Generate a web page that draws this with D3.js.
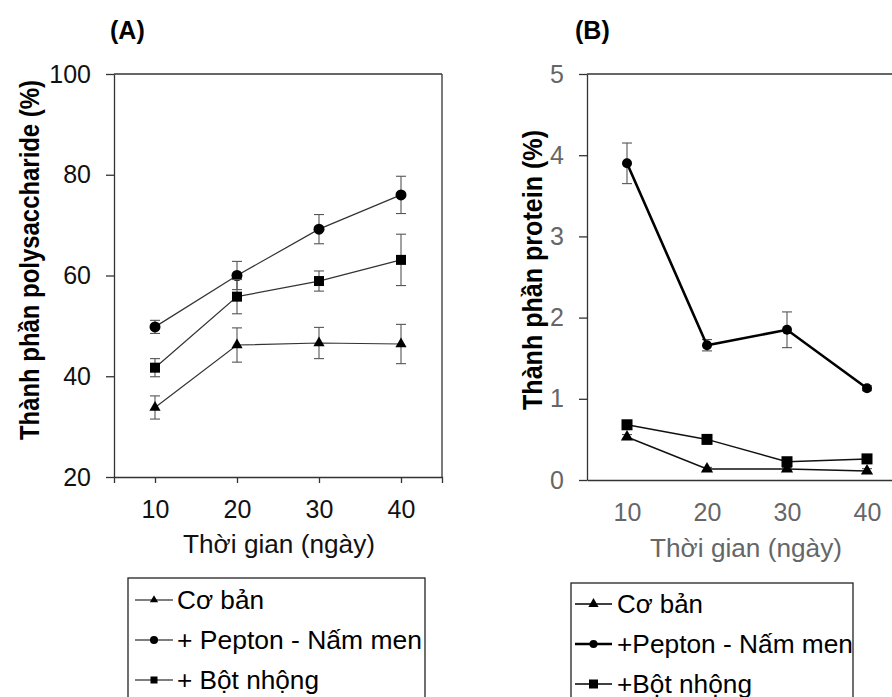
<!DOCTYPE html>
<html>
<head>
<meta charset="utf-8">
<script src="https://cdn.jsdelivr.net/npm/d3@7"></script>
<style>
  body { margin: 0; background: #fff; }
  svg { display: block; }
  text { font-family: "Liberation Sans", Arial, sans-serif; }
</style>
</head>
<body>
<div id="chart"></div>
<script>
// data
var days = [10, 20, 30, 40];
var yTicksA = [20, 40, 60, 80, 100];
var yTicksB = [0, 1, 2, 3, 4, 5];

var legendA = ["Cơ bản", "+ Pepton - Nấm men", "+ Bột nhộng"];
var legendB = ["Cơ bản", "+Pepton - Nấm men", "+Bột nhộng"];

// (A) polysaccharide %
var polyBase = [33.8, 46.2, 46.6, 46.4];
var polyBaseErr = [2.3, 3.4, 3.1, 3.9];
var polyPepton = [49.8, 60.0, 69.2, 76.0];
var polyPeptonErr = [1.3, 2.8, 2.9, 3.7];
var polyNhong = [41.7, 55.8, 58.9, 63.1];
var polyNhongErr = [1.8, 3.4, 2.0, 5.1];

// (B) protein %
var protBase = [0.53, 0.135, 0.135, 0.11];
var protBaseErr = [0.03, 0.02, 0.02, 0.03];
var protPepton = [3.9, 1.66, 1.85, 1.13];
var protPeptonErr = [0.25, 0.07, 0.22, 0.03];
var protNhong = [0.68, 0.5, 0.225, 0.26];
var protNhongErr = [0.03, 0.03, 0.03, 0.03];

var svg = d3.select("#chart")
  .append("svg")
  .attr("width", 892)
  .attr("height", 697);

// draws one marker shape at (cx, cy)
function marker(g, shape, cx, cy, s) {
  if (shape == "circle") {
    g.append("circle").attr("cx", cx).attr("cy", cy).attr("r", s / 2).attr("fill", "#000");
  } else if (shape == "square") {
    g.append("rect").attr("x", cx - s / 2).attr("y", cy - s / 2)
      .attr("width", s).attr("height", s).attr("fill", "#000");
  } else {
    g.append("path")
      .attr("d", d3.symbol().type(d3.symbolTriangle).size(s * s * 0.45)())
      .attr("transform", "translate(" + cx + "," + cy + ")")
      .attr("fill", "#000");
  }
}

function drawPanel(cfg) {
  var g = svg.append("g");
  var x = cfg.x, y = cfg.y;

  // Y axis
  var yAxis = g.append("g")
    .attr("transform", "translate(" + x.range()[0] + ",0)")
    .call(d3.axisLeft(y).tickValues(cfg.yTicks).tickFormat(d3.format("d"))
      .tickSize(8).tickSizeOuter(0).tickPadding(cfg.yPad));
  yAxis.selectAll("text").attr("font-size", 25).attr("fill", cfg.tickColor)
    .style("font-family", "'Liberation Sans', Arial, sans-serif");

  // X axis
  var xAxis = g.append("g")
    .attr("transform", "translate(0," + y.range()[0] + ")")
    .call(d3.axisBottom(x).tickValues(days).tickFormat(d3.format("d"))
      .tickSize(cfg.xTick).tickSizeOuter(cfg.xTick).tickPadding(cfg.xPad));
  xAxis.selectAll("text").attr("font-size", 25).attr("fill", cfg.tickColor)
    .style("font-family", "'Liberation Sans', Arial, sans-serif");

  g.selectAll(".domain, .tick line").attr("stroke", "#333").attr("stroke-width", 1.3);

  // top / right frame
  g.append("line")
    .attr("x1", x.range()[0]).attr("x2", Math.min(x.range()[1], 892))
    .attr("y1", y.range()[1]).attr("y2", y.range()[1])
    .attr("stroke", "#333").attr("stroke-width", 1.3);
  if (cfg.rightFrame) {
    g.append("line")
      .attr("x1", x.range()[1]).attr("x2", x.range()[1])
      .attr("y1", y.range()[1]).attr("y2", y.range()[0])
      .attr("stroke", "#333").attr("stroke-width", 1.3);
  }

  // series
  cfg.series.forEach(function(s) {
    var pts = days.map(function(d, i) { return { d: d, v: s.values[i], e: s.err[i] }; });

    // error bars
    pts.forEach(function(p) {
      var eb = g.append("g").attr("stroke", "#555").attr("stroke-width", 1.1);
      eb.append("line").attr("x1", x(p.d)).attr("x2", x(p.d))
        .attr("y1", y(p.v - p.e)).attr("y2", y(p.v + p.e));
      eb.append("line").attr("x1", x(p.d) - 5).attr("x2", x(p.d) + 5)
        .attr("y1", y(p.v - p.e)).attr("y2", y(p.v - p.e));
      eb.append("line").attr("x1", x(p.d) - 5).attr("x2", x(p.d) + 5)
        .attr("y1", y(p.v + p.e)).attr("y2", y(p.v + p.e));
    });

    var line = d3.line().x(function(p) { return x(p.d); }).y(function(p) { return y(p.v); });
    g.append("path").datum(pts)
      .attr("d", line)
      .attr("fill", "none")
      .attr("stroke", s.color)
      .attr("stroke-width", s.width);

    pts.forEach(function(p) { marker(g, s.shape, x(p.d), y(p.v), s.size); });
  });

  // titles
  g.append("text").attr("x", cfg.tagX).attr("y", 39)
    .attr("font-size", 25).attr("font-weight", "bold").text(cfg.tag);

  g.append("text")
    .attr("x", cfg.xTitle[0]).attr("y", cfg.xTitle[1])
    .attr("text-anchor", "middle").attr("font-size", 26)
    .attr("fill", cfg.tickColor)
    .attr("textLength", 192).attr("lengthAdjust", "spacingAndGlyphs")
    .text("Thời gian (ngày)");

  g.append("text")
    .attr("transform", "translate(" + cfg.yTitle[0] + "," + cfg.yTitle[1] + ") rotate(-90)")
    .attr("text-anchor", "middle").attr("font-size", 27).attr("font-weight", "bold")
    .attr("textLength", cfg.yTitle[2]).attr("lengthAdjust", "spacingAndGlyphs")
    .text(cfg.yLabel);

  // legend
  var lg = g.append("g");
  lg.append("rect")
    .attr("x", cfg.legend.x).attr("y", cfg.legend.y)
    .attr("width", cfg.legend.w).attr("height", 200)
    .attr("fill", "none").attr("stroke", "#222").attr("stroke-width", 1.3);
  cfg.series.forEach(function(s, i) {
    var by = cfg.legend.base[i];
    var my = by - 9;
    lg.append("line")
      .attr("x1", cfg.legend.l1).attr("x2", cfg.legend.l2)
      .attr("y1", my).attr("y2", my)
      .attr("stroke", "#000").attr("stroke-width", s.width);
    marker(lg, s.shape, (cfg.legend.l1 + cfg.legend.l2) / 2, my, s.legendSize);
    lg.append("text")
      .attr("x", cfg.legend.tx).attr("y", by)
      .attr("font-size", 25)
      .attr("textLength", cfg.legend.len[i]).attr("lengthAdjust", "spacingAndGlyphs")
      .text(cfg.legend.labels[i]);
  });
}

// Panel A
drawPanel({
  x: d3.scaleLinear().domain([5, 45]).range([114, 442]),
  y: d3.scaleLinear().domain([20, 100]).range([477, 74]),
  yTicks: yTicksA, yPad: 15, xTick: 6, xPad: 17,
  tickColor: "#111", rightFrame: true,
  tag: "(A)", tagX: 110,
  xTitle: [279, 553],
  yTitle: [39, 260, 360],
  yLabel: "Thành phần polysaccharide (%)",
  series: [
    { values: polyBase, err: polyBaseErr, shape: "triangle", size: 11, legendSize: 8, color: "#333", width: 1.2 },
    { values: polyPepton, err: polyPeptonErr, shape: "circle", size: 11, legendSize: 8, color: "#333", width: 1.2 },
    { values: polyNhong, err: polyNhongErr, shape: "square", size: 10, legendSize: 7, color: "#333", width: 1.2 }
  ],
  legend: { x: 128, y: 578, w: 297, base: [609, 649, 689], l1: 135, l2: 173, tx: 177,
            len: [87, 245, 142], labels: legendA }
});

// Panel B
drawPanel({
  x: d3.scaleLinear().domain([5, 45]).range([587, 907]),
  y: d3.scaleLinear().domain([0, 5]).range([480, 74]),
  yTicks: yTicksB, yPad: 15, xTick: 0, xPad: 23,
  tickColor: "#666", rightFrame: false,
  tag: "(B)", tagX: 575,
  xTitle: [746, 557],
  yTitle: [542, 270, 280],
  yLabel: "Thành phần protein (%)",
  series: [
    { values: protBase, err: protBaseErr, shape: "triangle", size: 12, legendSize: 10, color: "#111", width: 1.5 },
    { values: protPepton, err: protPeptonErr, shape: "circle", size: 10, legendSize: 8, color: "#000", width: 2.6 },
    { values: protNhong, err: protNhongErr, shape: "square", size: 11, legendSize: 9, color: "#111", width: 1.5 }
  ],
  legend: { x: 571, y: 583, w: 282, base: [613, 653, 693], l1: 575, l2: 612, tx: 617,
            len: [86, 236, 135], labels: legendB }
});
</script>
</body>
</html>
